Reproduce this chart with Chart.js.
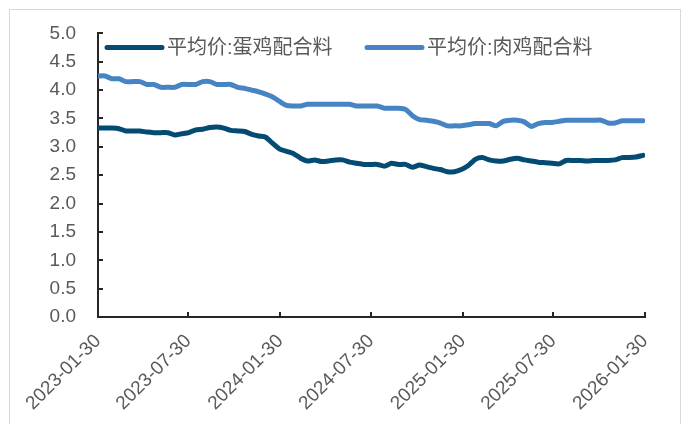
<!DOCTYPE html>
<html>
<head>
<meta charset="utf-8">
<script src="https://cdn.jsdelivr.net/npm/chart.js@4"></script>
<style>
  html, body { margin: 0; padding: 0; background: #fff; }
  #wrap { width: 688px; height: 424px; }
</style>
</head>
<body>
<div id="wrap"><canvas id="feedChart" width="688" height="424"></canvas></div>
<script>
// biweekly sample dates
const dates = [
  '2023-01-30', '2023-02-13', '2023-02-27', '2023-03-13', '2023-03-27', '2023-04-10', '2023-04-24', '2023-05-08',
  '2023-05-22', '2023-06-05', '2023-06-19', '2023-07-03', '2023-07-17', '2023-07-31', '2023-08-14', '2023-08-28',
  '2023-09-11', '2023-09-25', '2023-10-09', '2023-10-23', '2023-11-06', '2023-11-20', '2023-12-04', '2023-12-18',
  '2024-01-01', '2024-01-15', '2024-01-29', '2024-02-12', '2024-02-26', '2024-03-11', '2024-03-25', '2024-04-08',
  '2024-04-22', '2024-05-06', '2024-05-20', '2024-06-03', '2024-06-17', '2024-07-01', '2024-07-15', '2024-07-29',
  '2024-08-12', '2024-08-26', '2024-09-09', '2024-09-23', '2024-10-07', '2024-10-21', '2024-11-04', '2024-11-18',
  '2024-12-02', '2024-12-16', '2024-12-30', '2025-01-13', '2025-01-27', '2025-02-10', '2025-02-24', '2025-03-10',
  '2025-03-24', '2025-04-07', '2025-04-21', '2025-05-05', '2025-05-19', '2025-06-02', '2025-06-16', '2025-06-30',
  '2025-07-14', '2025-07-28', '2025-08-11', '2025-08-25', '2025-09-08', '2025-09-22', '2025-10-06', '2025-10-20',
  '2025-11-03', '2025-11-17', '2025-12-01', '2025-12-15', '2025-12-29', '2026-01-12', '2026-01-26'
];

// 平均价:蛋鸡配合料
const layerFeed = [
  3.33, 3.33, 3.33, 3.32, 3.28, 3.28, 3.28, 3.26, 3.25, 3.25, 3.25, 3.21, 3.23, 3.25, 3.30, 3.31,
  3.34, 3.35, 3.33, 3.29, 3.28, 3.27, 3.22, 3.19, 3.17, 3.06, 2.96, 2.92, 2.88, 2.80, 2.75, 2.77,
  2.74, 2.75, 2.77, 2.77, 2.73, 2.71, 2.69, 2.69, 2.69, 2.66, 2.71, 2.69, 2.69, 2.64, 2.68, 2.65,
  2.62, 2.60, 2.56, 2.56, 2.60, 2.67, 2.78, 2.81, 2.77, 2.75, 2.75, 2.78, 2.80, 2.77, 2.75, 2.73,
  2.72, 2.71, 2.70, 2.76, 2.76, 2.76, 2.75, 2.76, 2.76, 2.76, 2.77, 2.81, 2.81, 2.82, 2.85
];

// 平均价:肉鸡配合料
const broilerFeed = [
  4.25, 4.25, 4.20, 4.20, 4.15, 4.15, 4.15, 4.10, 4.10, 4.05, 4.05, 4.05, 4.10, 4.10, 4.10, 4.15,
  4.15, 4.10, 4.10, 4.10, 4.05, 4.03, 4.00, 3.97, 3.93, 3.88, 3.80, 3.73, 3.72, 3.72, 3.75, 3.75,
  3.75, 3.75, 3.75, 3.75, 3.75, 3.72, 3.72, 3.72, 3.72, 3.68, 3.68, 3.68, 3.66, 3.55, 3.48, 3.47,
  3.45, 3.42, 3.37, 3.37, 3.37, 3.39, 3.41, 3.41, 3.41, 3.37, 3.45, 3.47, 3.47, 3.44, 3.36, 3.41,
  3.43, 3.43, 3.45, 3.47, 3.47, 3.47, 3.47, 3.47, 3.47, 3.42, 3.42, 3.46, 3.46, 3.46, 3.46
];

const tickLabels = ['2023-01-30', '2023-07-30', '2024-01-30', '2024-07-30', '2025-01-30', '2025-07-30', '2026-01-30'];
const seriesNames = ['平均价:蛋鸡配合料', '平均价:肉鸡配合料'];
const seriesColors = ['#034B72', '#4784C4'];

const DAY = 86400000;
const start = Date.parse(tickLabels[0]);
const toDay = s => Math.round((Date.parse(s) - start) / DAY);
const tickDays = tickLabels.map(toDay);

const fontFamily = '"Liberation Sans", Arial, "Noto Sans CJK SC", sans-serif';
const textColor = '#595959';

// outer light frame
const framePlugin = {
  id: 'frame',
  beforeDraw(chart) {
    const ctx = chart.ctx;
    ctx.save();
    ctx.fillStyle = '#fff';
    ctx.fillRect(0, 0, chart.width, chart.height);
    ctx.strokeStyle = '#d9d9d9';
    ctx.lineWidth = 1;
    ctx.strokeRect(9.5, 9.5, 671, 420);
    ctx.restore();
  }
};

// tick marks pointing into the plot
const innerTicks = {
  id: 'innerTicks',
  afterDraw(chart) {
    const ctx = chart.ctx;
    const x = chart.scales.x, y = chart.scales.y;
    ctx.save();
    ctx.strokeStyle = '#262626';
    ctx.lineWidth = 2;
    ctx.beginPath();
    y.ticks.forEach(t => {
      const py = Math.round(y.getPixelForValue(t.value));
      ctx.moveTo(y.right, py);
      ctx.lineTo(y.right + 5, py);
    });
    x.ticks.forEach(t => {
      const px = Math.round(x.getPixelForValue(t.value));
      ctx.moveTo(px, x.top);
      ctx.lineTo(px, x.top - 5);
    });
    ctx.stroke();
    ctx.restore();
  }
};

// legend sitting inside the plot, top left
const insideLegend = {
  id: 'insideLegend',
  afterDatasetsDraw(chart) {
    const ctx = chart.ctx;
    const area = chart.chartArea;
    const ly = area.top + 14;
    const startX = [area.left + 9, area.left + 269];
    ctx.save();
    ctx.font = '20px ' + fontFamily;
    ctx.textBaseline = 'middle';
    chart.data.datasets.forEach((ds, i) => {
      const x0 = startX[i];
      ctx.strokeStyle = ds.borderColor;
      ctx.lineWidth = ds.borderWidth;
      ctx.lineCap = 'round';
      ctx.beginPath();
      ctx.moveTo(x0, ly);
      ctx.lineTo(x0 + 55, ly);
      ctx.stroke();
      ctx.fillStyle = textColor;
      ctx.fillText(ds.label, x0 + 60, ly + 1);
    });
    ctx.restore();
  }
};

const ctx = document.getElementById('feedChart').getContext('2d');
const chart = new Chart(ctx, {
  type: 'line',
  data: {
    datasets: [layerFeed, broilerFeed].map((vals, k) => ({
      label: seriesNames[k],
      data: dates.map((d, i) => ({ x: toDay(d), y: vals[i] })),
      borderColor: seriesColors[k],
      backgroundColor: seriesColors[k],
      borderWidth: 5,
      borderCapStyle: 'round',
      borderJoinStyle: 'round',
      pointRadius: 0,
      tension: 0.2
    }))
  },
  options: {
    responsive: false,
    animation: false,
    layout: { padding: { left: 0, right: 43, top: 30, bottom: 0 } },
    plugins: {
      tooltip: { enabled: false },
      legend: { display: false }
    },
    scales: {
      x: {
        type: 'linear',
        min: 0,
        max: tickDays[tickDays.length - 1],
        afterBuildTicks(scale) {
          scale.ticks = tickDays.map(v => ({ value: v }));
        },
        afterFit(scale) { scale.height = 424 - 317; },
        grid: { display: false, drawTicks: false },
        border: { display: true, color: '#262626', width: 2 },
        ticks: {
          autoSkip: false,
          maxRotation: 45,
          minRotation: 45,
          padding: 13,
          color: textColor,
          font: { family: fontFamily, size: 19 },
          callback(value) {
            const i = tickDays.indexOf(value);
            return i >= 0 ? tickLabels[i] : '';
          }
        }
      },
      y: {
        min: 0,
        max: 5,
        afterFit(scale) { scale.width = 98; },
        grid: { display: false, drawTicks: false },
        border: { display: true, color: '#262626', width: 2 },
        ticks: {
          stepSize: 0.5,
          padding: 22,
          color: textColor,
          font: { family: fontFamily, size: 19 },
          callback: v => v.toFixed(1)
        }
      }
    }
  },
  plugins: [framePlugin, innerTicks, insideLegend]
});
</script>
</body>
</html>
